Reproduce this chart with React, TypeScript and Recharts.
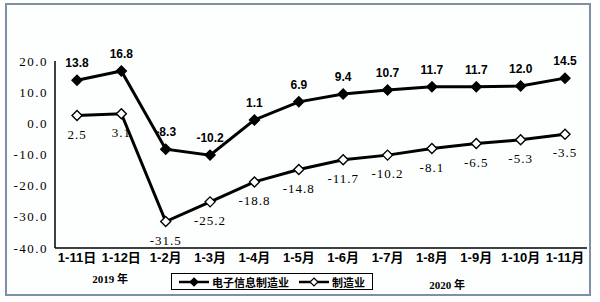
import React from 'react';
import { LineChart, Line, XAxis, YAxis, LabelList, Legend } from 'recharts';

const categories = ['1-11日', '1-12日', '1-2月', '1-3月', '1-4月', '1-5月', '1-6月', '1-7月', '1-8月', '1-9月', '1-10月', '1-11月'];
const electronics = [13.8, 16.8, -8.3, -10.2, 1.1, 6.9, 9.4, 10.7, 11.7, 11.7, 12.0, 14.5];
const manufacturing = [2.5, 3.1, -31.5, -25.2, -18.8, -14.8, -11.7, -10.2, -8.1, -6.5, -5.3, -3.5];
const yTicks = [-40, -30, -20, -10, 0, 10, 20];
const seriesNames = ['电子信息制造业', '制造业'];
const yearLabels = ['2019 年', '2020 年'];

const data = categories.map((c, i) => ({ name: c, electronics: electronics[i], manufacturing: manufacturing[i] }));

const SANS = '"Liberation Sans", Arial, "Noto Sans CJK SC", sans-serif';
const SERIF = '"Liberation Serif", "Times New Roman", "Noto Sans CJK SC", serif';

const makeDiamond = (fill: string) => (props: any) => {
  const { cx, cy, index } = props;
  if (cx == null || cy == null) return <g key={`e-${index}`} />;
  const r = 5;
  return (
    <path
      key={`d-${fill}-${index}`}
      d={`M${cx},${cy - r}L${cx + r},${cy}L${cx},${cy + r}L${cx - r},${cy}Z`}
      fill={fill}
      stroke="#000"
      strokeWidth={1.4}
    />
  );
};

const LegendIcon = ({ fill }: { fill: string }) => (
  <svg width={30} height={10} style={{ display: 'inline-block', verticalAlign: 'middle' }}>
    <line x1={0} y1={5} x2={30} y2={5} stroke="#000" strokeWidth={2.5} />
    <path d="M15,1L19,5L15,9L11,5Z" fill={fill} stroke="#000" strokeWidth={1.2} />
  </svg>
);

const CustomLegend = () => (
  <div
    style={{
      boxSizing: 'border-box',
      width: 202,
      height: 17,
      border: '1.5px solid #000',
      background: '#fff',
      display: 'flex',
      alignItems: 'center',
      justifyContent: 'center',
      gap: 10,
      fontFamily: '"Noto Sans CJK SC", sans-serif',
      fontWeight: 700,
      fontSize: 11,
      lineHeight: '14px',
      color: '#000',
    }}
  >
    <span style={{ display: 'flex', alignItems: 'center', gap: 3 }}>
      <LegendIcon fill="#000" />
      {seriesNames[0]}
    </span>
    <span style={{ display: 'flex', alignItems: 'center', gap: 3 }}>
      <LegendIcon fill="#fff" />
      {seriesNames[1]}
    </span>
  </div>
);

export default function App() {
  return (
    <div style={{ position: 'absolute', left: 0, top: 0, width: 600, height: 302, background: '#fff' }}>
      <div
        style={{
          position: 'absolute',
          left: 5,
          top: 3,
          width: 586,
          height: 293,
          boxSizing: 'border-box',
          border: '2px solid #7f8fa6',
          background: '#fdfffe',
        }}
      />
      <div style={{ position: 'absolute', left: 0, top: 0 }}>
        <LineChart width={600} height={302} data={data} margin={{ top: 61, right: 13, bottom: 24, left: 0 }}>
          <XAxis
            dataKey="name"
            padding={{ left: 22, right: 22 }}
            height={30}
            tickLine={false}
            tickSize={0}
            tickMargin={5}
            interval={0}
            axisLine={{ stroke: '#000', strokeWidth: 1.5 }}
            tick={{ fill: '#000', fontFamily: SANS, fontWeight: 700, fontSize: 13 }}
          />
          <YAxis
            width={55}
            domain={[-40, 20]}
            ticks={yTicks}
            tickLine={false}
            tickSize={0}
            tickMargin={7}
            interval={0}
            tickFormatter={(v: number) => v.toFixed(1)}
            axisLine={{ stroke: '#000', strokeWidth: 1.5 }}
            tick={{ fill: '#000', fontFamily: SERIF, fontSize: 13, letterSpacing: 1.5 }}
          />
          <Legend
            layout="vertical"
            align="center"
            verticalAlign="middle"
            wrapperStyle={{ left: 171, top: 273, width: 202, height: 17 }}
            content={() => <CustomLegend />}
          />
          <Line
            type="linear"
            dataKey="electronics"
            name={seriesNames[0]}
            stroke="#000"
            strokeWidth={3}
            dot={makeDiamond('#000')}
            activeDot={false}
            isAnimationActive={false}
          >
            <LabelList
              dataKey="electronics"
              position="top"
              offset={13}
              formatter={(v: any) => Number(v).toFixed(1)}
              style={{ fill: '#000', fontFamily: SANS, fontWeight: 700, fontSize: 12 }}
            />
          </Line>
          <Line
            type="linear"
            dataKey="manufacturing"
            name={seriesNames[1]}
            stroke="#000"
            strokeWidth={3}
            dot={makeDiamond('#fff')}
            activeDot={false}
            isAnimationActive={false}
          >
            <LabelList
              dataKey="manufacturing"
              position="bottom"
              offset={14}
              formatter={(v: any) => Number(v).toFixed(1)}
              style={{ fill: '#000', fontFamily: SERIF, fontSize: 13, letterSpacing: 1 }}
            />
          </Line>
        </LineChart>
      </div>
      <div
        style={{
          position: 'absolute',
          left: 90,
          top: 270,
          width: 40,
          textAlign: 'center',
          fontFamily: SERIF,
          fontWeight: 700,
          fontSize: 11,
          color: '#000',
          whiteSpace: 'nowrap',
        }}
      >
        {yearLabels[0]}
      </div>
      <div
        style={{
          position: 'absolute',
          left: 427,
          top: 276,
          width: 40,
          textAlign: 'center',
          fontFamily: SERIF,
          fontWeight: 700,
          fontSize: 11,
          color: '#000',
          whiteSpace: 'nowrap',
        }}
      >
        {yearLabels[1]}
      </div>
    </div>
  );
}
